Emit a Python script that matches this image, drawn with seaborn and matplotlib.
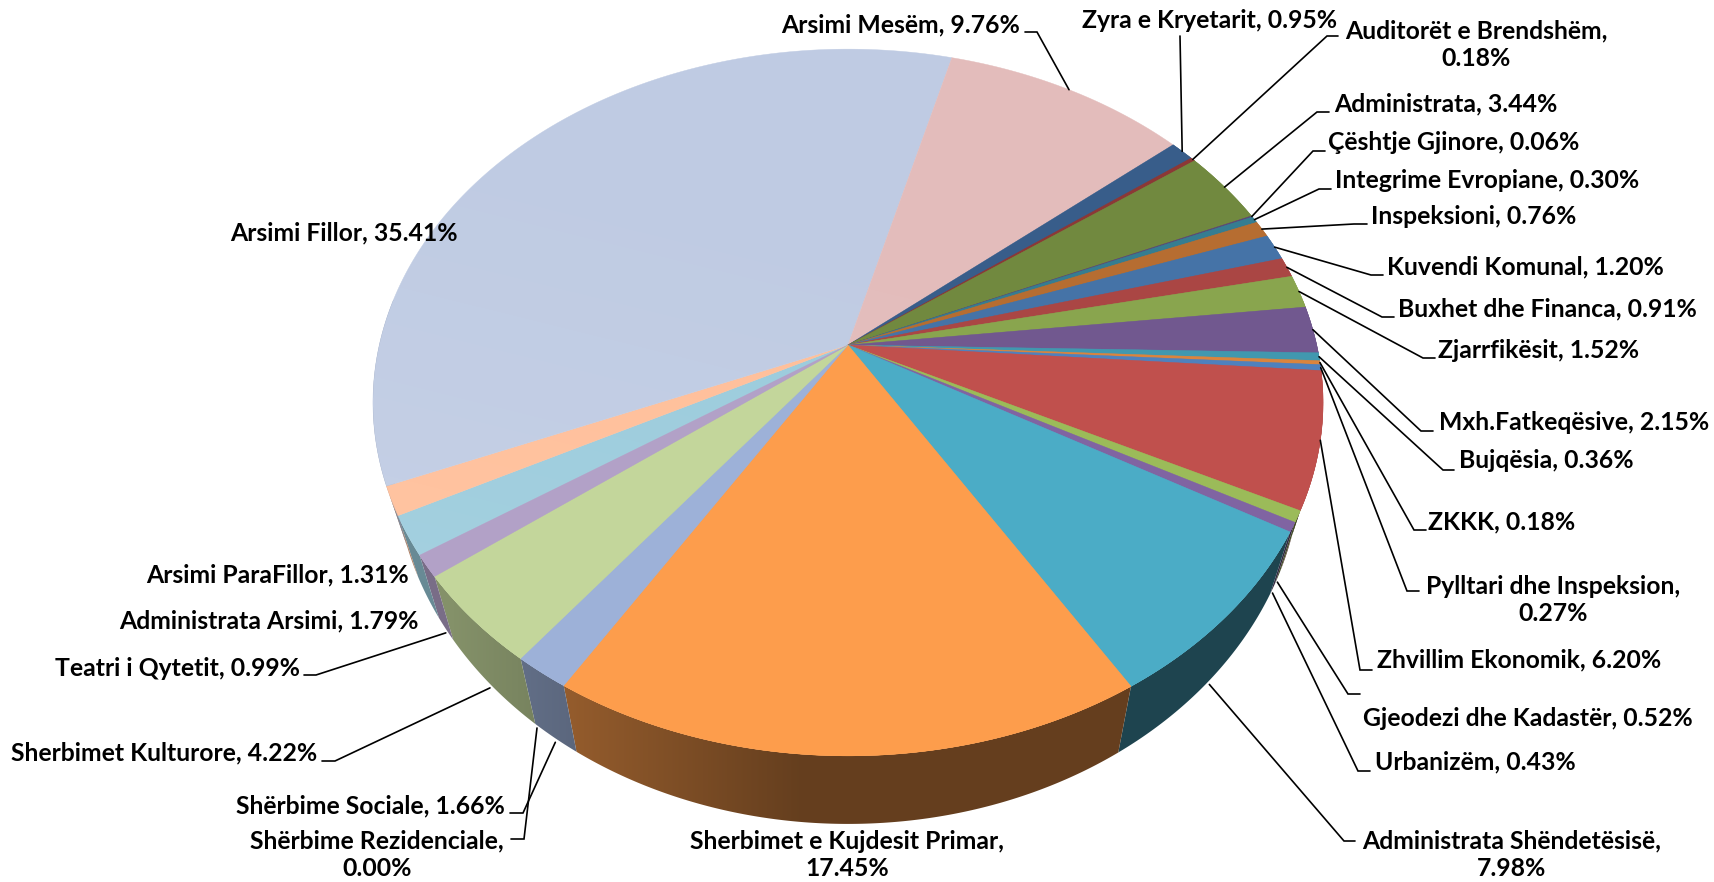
import numpy as np
import seaborn as sns
import matplotlib
matplotlib.use("Agg")
import matplotlib.pyplot as plt
from matplotlib.patches import Polygon

sns.set_theme(style="white")
plt.rcParams['font.family'] = ['Lato', 'DejaVu Sans']

# data, clockwise from the top right
names = ['Zyra e Kryetarit', 'Auditorët e Brendshëm', 'Administrata', 'Çështje Gjinore',
         'Integrime Evropiane', 'Inspeksioni', 'Kuvendi Komunal', 'Buxhet dhe Financa',
         'Zjarrfikësit', 'Mxh.Fatkeqësive', 'Bujqësia', 'ZKKK', 'Pylltari dhe Inspeksion',
         'Zhvillim Ekonomik', 'Gjeodezi dhe Kadastër', 'Urbanizëm', 'Administrata Shëndetësisë',
         'Sherbimet e Kujdesit Primar', 'Shërbime Rezidenciale', 'Shërbime Sociale',
         'Sherbimet Kulturore', 'Teatri i Qytetit', 'Administrata Arsimi', 'Arsimi ParaFillor',
         'Arsimi Fillor', 'Arsimi Mesëm']
shares = [0.95, 0.18, 3.44, 0.06, 0.30, 0.76, 1.20, 0.91, 1.52, 2.15, 0.36, 0.18, 0.27,
          6.20, 0.52, 0.43, 7.98, 17.45, 0.00, 1.66, 4.22, 0.99, 1.79, 1.31, 35.41, 9.76]
slice_colors = ['#385D8A', '#8C3836', '#71893F', '#5C4776', '#357D91', '#B66D31', '#4573A7',
                '#AA4644', '#89A54E', '#71588F', '#4198AF', '#DB843D', '#4F81BD', '#C0504D',
                '#9BBB59', '#8064A2', '#4BACC6', '#FD9D4C', '#F4B183', '#9DB1D8', '#C3D69B',
                '#B2A1C7', '#9ACBDC', '#FFBE98', '#BFCBE3', '#E3BCBB']

# label layout in pixels: centre x, centre y, line break after the comma or not
label_pos = [(1210, 20, 0), (1476, 45, 1), (1446, 104, 0), (1454, 143, 0), (1487, 181, 0),
             (1474, 216, 0), (1525, 267, 0), (1547, 309, 0), (1539, 350, 0), (1574, 423, 0),
             (1546, 460, 0), (1502, 522, 0), (1553, 600, 1), (1519, 660, 0), (1528, 718, 0),
             (1475, 762, 0), (1512, 855, 1), (847, 855, 1), (377, 855, 1), (370, 806, 0),
             (164, 753, 0), (178, 668, 0), (269, 621, 0), (278, 575, 0), (344, 233, 0), (901, 25, 0)]
# leader: label end, elbow (None means no leader line)
leaders = [((1180, 36), (1180, 36)), ((1338, 36), (1327, 36)), ((1329, 112), (1317, 112)),
           ((1325, 151), (1313, 151)), ((1331, 189), (1319, 189)), ((1367, 224), (1354, 224)),
           ((1383, 275), (1371, 275)), ((1394, 317), (1382, 317)), ((1435, 358), (1423, 358)),
           ((1433, 431), (1421, 431)), ((1454, 470), (1443, 470)), ((1426, 530), (1414, 530)),
           ((1419, 591), (1407, 591)), ((1372, 670), (1360, 670)), ((1360, 694), (1348, 694)),
           ((1370, 771), (1358, 771)), ((1355, 841), (1344, 841)), None,
           ((511, 839), (524, 839)), ((510, 813), (523, 813)), ((322, 761), (335, 761)),
           ((304, 675), (316, 675)), None, None, None, ((1025, 32), (1037, 32))]
# the empty slice has its leader pulled away from the rim
rezid_target = (537, 728)
pale_slices = (24, 25, 22, 23)

# perspective of the disc
cx, cy = 848, 345
R, S, k = 468.7, 344, 0.1627
start_angle = 50.0
depth, shrink = 57, 0.955


def top_rim(deg):
    t = np.radians(deg)
    u, v = np.sin(t), np.cos(t)
    w = 1 + k * v
    return cx + R * u / w, cy - S * v / w


def low_rim(deg):
    t = np.radians(deg)
    v = np.cos(t)
    x, y = top_rim(deg)
    return cx + (x - cx) * shrink, y + depth / (1 + k * v)


def side_shade(x):
    return np.interp(x, [450, 800], [0.68, 0.40])


fig = plt.figure(figsize=(17.14, 8.82), dpi=100)
ax = fig.add_axes([0, 0, 1, 1])

edges = start_angle + 3.6 * np.concatenate([[0], np.cumsum(shares)])

# side wall, one shaded strip per slice, only the near part shows
px = np.arange(340, 1340)
for i, col in enumerate(slice_colors):
    if shares[i] == 0:
        continue
    arc = np.linspace(edges[i], edges[i + 1], max(4, int(shares[i] * 10)))
    arc = arc[np.cos(np.radians(arc)) < 0.3]
    if len(arc) < 2:
        continue
    tx, ty = top_rim(arc)
    lx, ly = low_rim(arc)
    outline = np.column_stack([np.r_[tx, lx[::-1]], np.r_[ty, ly[::-1]]])
    strip = np.array(matplotlib.colors.to_rgb(col))[None, None, :] * side_shade(px)[None, :, None]
    wall = ax.imshow(strip, extent=(340, 1340, 840, 300), aspect='auto', zorder=2,
                     interpolation='bilinear')
    wall.set_clip_path(Polygon(outline, transform=ax.transData))

# top face
for i, col in enumerate(slice_colors):
    if shares[i] == 0:
        continue
    arc = np.linspace(edges[i], edges[i + 1], max(3, int(shares[i] * 8)))
    xs, ys = top_rim(arc)
    ax.fill(np.r_[cx, xs], np.r_[cy, ys], color=col, lw=0.3, zorder=3)

# soft light towards the lower left of the disc
disc = np.array(top_rim(np.arange(0, 360, 1.0))).T
glow = np.zeros((200, 200, 4))
gx, gy = np.meshgrid(np.linspace(0, 1, 200), np.linspace(0, 1, 200))
glow[..., :3] = 1
glow[..., 3] = np.clip(0.16 * (gy * 0.9 + (1 - gx) * 0.3 - 0.35), 0, 0.12)
im = ax.imshow(glow, extent=(373, 1323, 756, 49), aspect='auto', zorder=4, interpolation='bilinear')
im.set_clip_path(Polygon(disc, transform=ax.transData))
# keep the saturated slices flat, the glow only touches the pale ones
for i, col in enumerate(slice_colors):
    if shares[i] > 0 and i not in pale_slices:
        arc = np.linspace(edges[i], edges[i + 1], max(3, int(shares[i] * 8)))
        xs, ys = top_rim(arc)
        ax.fill(np.r_[cx, xs], np.r_[cy, ys], color=col, lw=0.3, zorder=5)

# labels and leader lines
for i, name in enumerate(names):
    x, y, brk = label_pos[i]
    sep = ',\n' if brk else ', '
    ax.text(x, y, f'{name}{sep}{shares[i]:.2f}%', ha='center', va='center', fontsize=17.8,
            fontweight='bold', color='black', linespacing=1.24, zorder=7)
    if leaders[i] is None:
        continue
    mid = (edges[i] + edges[i + 1]) / 2
    if shares[i] == 0:
        sx, sy = rezid_target
    elif np.cos(np.radians(mid)) < -0.4:
        sx, sy = low_rim(mid)
        sy += 4
    else:
        sx, sy = top_rim(mid)
    end, elbow = leaders[i]
    ax.plot([end[0], elbow[0], sx], [end[1], elbow[1], sy], color='black', lw=1.2,
            solid_joinstyle='miter', zorder=6)

ax.set_xlim(0, 1714)
ax.set_ylim(882, 0)
ax.axis('off')
fig.savefig('out.png', dpi=100, facecolor='white')
